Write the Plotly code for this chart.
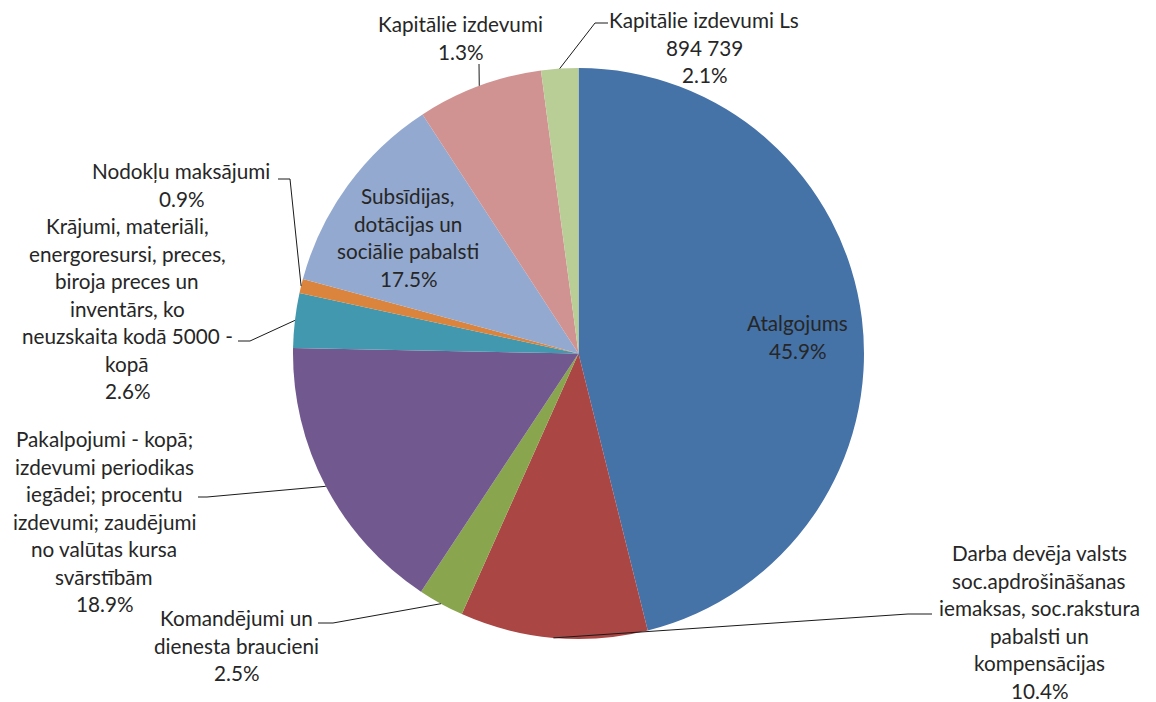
import math
import plotly.graph_objects as go

# ---------------- data ----------------
categories = [
    "Atalgojums",
    "Darba devēja valsts soc.apdrošināšanas iemaksas, soc.rakstura pabalsti un kompensācijas",
    "Komandējumi un dienesta braucieni",
    "Pakalpojumi - kopā; izdevumi periodikas iegādei; procentu izdevumi; zaudējumi no valūtas kursa svārstībām",
    "Krājumi, materiāli, energoresursi, preces, biroja preces un inventārs, ko neuzskaita kodā 5000 - kopā",
    "Nodokļu maksājumi",
    "Subsīdijas, dotācijas un sociālie pabalsti",
    "Kapitālie izdevumi",
    "Kapitālie izdevumi Ls",
]
# slice sizes as drawn in the picture (percent of the circle)
slice_values = [46.1, 10.6, 2.6, 16.0, 3.1, 0.8, 11.6, 7.1, 2.1]
# percentages printed in the data labels
label_pct = ["45.9%", "10.4%", "2.5%", "18.9%", "2.6%", "0.9%", "17.5%", "1.3%", "2.1%"]
# label text lines (without percent)
label_lines = [
    ["Atalgojums"],
    ["Darba devēja valsts", "soc.apdrošināšanas", "iemaksas, soc.rakstura", "pabalsti un", "kompensācijas"],
    ["Komandējumi un", "dienesta braucieni"],
    ["Pakalpojumi - kopā;", "izdevumi periodikas", "iegādei; procentu", "izdevumi; zaudējumi",
     "no valūtas kursa", "svārstībām"],
    ["Krājumi, materiāli,", "energoresursi, preces,", "biroja preces un", "inventārs, ko",
     "neuzskaita kodā 5000 -", "kopā"],
    ["Nodokļu maksājumi"],
    ["Subsīdijas,", "dotācijas un", "sociālie pabalsti"],
    ["Kapitālie izdevumi"],
    ["Kapitālie izdevumi Ls", "894 739"],
]
colors = ["#4572A7", "#AA4643", "#89A54E", "#71588F", "#4198AF",
          "#DB843D", "#93A9CF", "#D19392", "#B9CD96"]

# ---------------- layout constants (screen pixels) ----------------
W, H = 1156, 702
OFF = 8                      # default page margin around the plot div
CX, CY, R = 578.5, 353.5, 285.5
LINE_H = 27.5
FONT = dict(family="Lato, 'Open Sans', sans-serif", size=20.7, color="#262626")

# label centre x, first line centre y
label_pos = [(797, 323), (1039, 553), (236, 618), (104, 439), (127, 226),
             (181, 171), (408, 196), (460, 24), (704, 20)]
# leader line: points from the label towards the pie (None = no leader)
leader_pts = [
    None,
    [(932, 614), (908, 614)],
    [(318, 623), (333, 623)],
    [(198, 497), (207, 497)],
    [(238, 341), (250, 341)],
    [(278, 179), (290, 179)],
    None,
    [(479, 64)],
    [(608, 23), (595, 23)],
]

fig = go.Figure()
fig.add_trace(go.Pie(
    labels=categories,
    values=slice_values,
    sort=False,
    direction="clockwise",
    rotation=0,
    marker=dict(colors=colors, line=dict(width=0)),
    textinfo="none",
    hoverinfo="skip",
    showlegend=False,
    domain=dict(x=[(CX - OFF - R) / W, (CX - OFF + R) / W],
                y=[1 - (CY - OFF + R) / H, 1 - (CY - OFF - R) / H]),
))

# invisible helper trace so that shapes/annotations use pixel-like axes
fig.add_trace(go.Scatter(x=[OFF, W + OFF], y=[OFF, H + OFF], mode="markers",
                         marker=dict(opacity=0), hoverinfo="skip", showlegend=False))

total = sum(slice_values)
cum = 0.0
shapes = []
annotations = []
for i, v in enumerate(slice_values):
    mid = (cum + v / 2) / total
    cum += v
    ang = 2 * math.pi * mid
    ex = CX + R * math.sin(ang)
    ey = CY - R * math.cos(ang)
    pts = leader_pts[i]
    if pts:
        path = "M " + " L ".join(f"{x},{y}" for x, y in pts + [(ex, ey)])
        shapes.append(dict(type="path", path=path, xref="x", yref="y",
                           line=dict(color="#1a1a1a", width=1)))
    lines = label_lines[i] + [label_pct[i]]
    lx, ly = label_pos[i]
    for k, t in enumerate(lines):
        annotations.append(dict(x=lx, y=ly + k * LINE_H, xref="x", yref="y",
                                text=t, showarrow=False, font=FONT,
                                xanchor="center", yanchor="middle"))

fig.update_layout(
    width=W, height=H,
    margin=dict(l=0, r=0, t=0, b=0),
    paper_bgcolor="white", plot_bgcolor="rgba(0,0,0,0)",
    xaxis=dict(range=[OFF, W + OFF], visible=False, fixedrange=True, domain=[0, 1]),
    yaxis=dict(range=[H + OFF, OFF], visible=False, fixedrange=True, domain=[0, 1]),
    shapes=shapes,
    annotations=annotations,
)

fig.write_html("out.html")
